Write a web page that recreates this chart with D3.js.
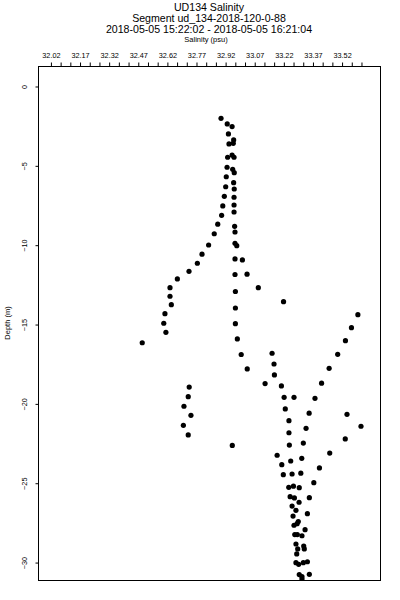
<!DOCTYPE html>
<html>
<head>
<meta charset="utf-8">
<script src="https://cdn.jsdelivr.net/npm/d3@7"></script>
<style>
    body { margin: 0; background: #fff; }
    svg { display: block; font-family: "Liberation Sans", Arial, sans-serif; }
    .title { font-size: 10.6px; text-anchor: middle; }
    .axisLabel { font-size: 7.5px; text-anchor: middle; }
    .tick text { font-size: 7.3px; }
</style>
</head>
<body>
<script>
'use strict';

// salinity (psu) and depth (m) of each sample
const salinity = [
    32.899, 32.931, 32.956, 32.937, 32.964, 32.940, 32.962, 32.956, 32.933, 32.966,
    32.930, 32.959, 32.967, 32.926, 32.964, 32.923, 32.967, 32.916, 32.966, 32.908,
    32.966, 32.902, 32.966, 32.882, 32.969, 32.864, 32.971, 32.835, 32.971, 32.980,
    32.801, 32.777, 32.971, 33.009, 32.734, 32.674, 32.971, 33.033, 32.636, 32.973,
    33.091, 32.636, 32.643, 32.973, 32.610, 32.604, 32.973, 32.615, 32.493, 32.983,
    33.003, 33.162, 33.172, 33.034, 33.174, 33.126, 33.210, 32.735, 32.730, 32.708,
    32.744, 32.705, 32.730, 32.957, 33.221, 33.604, 33.571, 33.540, 33.500, 33.456,
    33.417, 33.383, 33.353, 33.337, 33.323, 33.548, 33.620, 33.539, 33.224, 33.275,
    33.230, 33.249, 33.249, 33.251, 33.188, 33.459, 33.315, 33.258, 33.212, 33.406,
    33.220, 33.265, 33.310, 33.377, 33.248, 33.272, 33.302, 33.255, 33.277, 33.301,
    33.354, 33.265, 33.285, 33.270, 33.344, 33.297, 33.291, 33.275, 33.332, 33.279,
    33.292, 33.316, 33.285, 33.325, 33.328, 33.294, 33.289, 33.285, 33.299, 33.323,
    33.344, 33.302, 33.316, 33.354, 33.316
];
const depth = [
    -2.04, -2.39, -2.56, -3.02, -3.40, -3.65, -3.61, -4.35, -4.49, -4.49,
    -5.12, -5.25, -5.46, -5.72, -6.09, -6.35, -6.49, -6.95, -7.01, -7.56,
    -7.50, -8.15, -7.94, -8.71, -8.84, -9.31, -9.20, -10.02, -9.91, -10.06,
    -10.60, -11.17, -10.90, -10.96, -11.68, -12.16, -11.88, -11.86, -12.71, -12.95,
    -12.71, -13.25, -13.78, -13.99, -14.35, -14.95, -14.98, -15.52, -16.18, -15.94,
    -16.92, -16.84, -17.52, -17.83, -18.21, -18.75, -18.90, -18.97, -19.58, -20.18,
    -20.75, -21.38, -21.99, -22.65, -13.59, -14.41, -15.23, -16.05, -16.91, -17.79,
    -18.73, -19.68, -20.62, -21.57, -22.50, -20.69, -21.44, -22.24, -19.62, -19.62,
    -20.35, -21.09, -21.85, -22.63, -23.27, -23.13, -23.46, -23.63, -23.86, -24.07,
    -24.49, -24.45, -24.40, -25.00, -25.29, -25.22, -25.31, -25.88, -25.96, -26.23,
    -25.94, -26.47, -26.74, -27.10, -26.95, -27.45, -27.58, -27.68, -27.96, -28.27,
    -28.27, -28.34, -28.86, -28.99, -29.17, -29.17, -29.49, -30.04, -30.14, -30.04,
    -29.98, -30.79, -30.92, -30.77, -31.07
];

const salinityTickLabels = ['32.02', '32.17', '32.32', '32.47', '32.62', '32.77',
    '32.92', '33.07', '33.22', '33.37', '33.52'];
const depthTickLabels = [0, -5, -10, -15, -20, -25, -30];
const titleLines = [
    'UD134 Salinity',
    'Segment ud_134-2018-120-0-88',
    '2018-05-05 15:22:02 - 2018-05-05 16:21:04'
];

(function () {

    const plot = {
        width: 400,
        height: 600,
        box: { left: 38, right: 380, top: 66, bottom: 580 }
    };

    function makeScales() {
        return {
            x: d3.scaleLinear().domain([31.956, 33.718])
                .range([plot.box.left, plot.box.right]),
            y: d3.scaleLinear().domain([1.26, -31.13])
                .range([plot.box.top, plot.box.bottom])
        };
    }

    /**
     * Top axis: minor tick every 0.05 psu, labels every 0.15.
     */
    function appendXAxis(svg, scales) {
        const first = +salinityTickLabels[0];
        const minor = d3.range(0, 33).map(i => +(first + i * 0.05).toFixed(2));
        const labelled = new Set(salinityTickLabels);
        const axis = d3.axisTop(scales.x)
            .tickValues(minor)
            .tickSize(4)
            .tickSizeOuter(0)
            .tickPadding(5)
            .tickFormat(d => labelled.has(d.toFixed(2)) ? d.toFixed(2) : '');
        const g = svg.append('g')
            .attr('transform', 'translate(0.5,' + (plot.box.top + 0.5) + ')')
            .call(axis);
        g.select('.domain').remove();
        g.selectAll('.tick text').attr('font-family', null).attr('font-size', null);
    }

    /**
     * Left axis: short ticks, labels turned to read bottom to top.
     */
    function appendYAxis(svg, scales) {
        const axis = d3.axisLeft(scales.y)
            .tickValues(depthTickLabels)
            .tickSize(3)
            .tickSizeOuter(0)
            .tickFormat(d3.format('d'));
        const g = svg.append('g')
            .attr('transform', 'translate(' + (plot.box.left + 0.5) + ',0.5)')
            .call(axis);
        g.select('.domain').remove();
        g.selectAll('.tick text')
            .attr('font-family', null).attr('font-size', null)
            .attr('x', 0).attr('y', -12).attr('dy', 0)
            .attr('text-anchor', 'middle')
            .attr('transform', 'rotate(-90)');
    }

    function appendBox(svg) {
        svg.append('rect')
            .attr('x', plot.box.left + 0.5)
            .attr('y', plot.box.top + 0.5)
            .attr('width', plot.box.right - plot.box.left)
            .attr('height', plot.box.bottom - plot.box.top)
            .attr('fill', 'none')
            .attr('stroke', '#000')
            .attr('stroke-width', 1);
    }

    function appendPoints(svg, scales) {
        svg.append('clipPath').attr('id', 'plotClip')
            .append('rect')
            .attr('x', plot.box.left).attr('y', plot.box.top)
            .attr('width', plot.box.right - plot.box.left)
            .attr('height', plot.box.bottom - plot.box.top);
        svg.append('g')
            .attr('clip-path', 'url(#plotClip)')
            .selectAll('circle')
            .data(d3.range(salinity.length))
            .enter()
            .append('circle')
            .attr('cx', i => scales.x(salinity[i]))
            .attr('cy', i => scales.y(depth[i]))
            .attr('r', 2.6)
            .attr('fill', '#000');
    }

    function appendTitles(svg) {
        const cx = (plot.box.left + plot.box.right) / 2;
        svg.selectAll('.title')
            .data(titleLines)
            .enter()
            .append('text')
            .attr('class', 'title')
            .attr('x', cx)
            .attr('y', (d, i) => 11 + i * 11)
            .text(d => d);
        svg.append('text')
            .attr('class', 'axisLabel')
            .attr('x', cx - 3)
            .attr('y', 41.5)
            .text('Salinity (psu)');
        svg.append('text')
            .attr('class', 'axisLabel')
            .attr('font-size', '6.5px')
            .attr('transform', 'translate(10,' + ((plot.box.top + plot.box.bottom) / 2) + ') rotate(-90)')
            .text('Depth (m)');
    }

    function draw() {
        const svg = d3.select('body').append('svg')
            .attr('width', plot.width)
            .attr('height', plot.height);
        const scales = makeScales();
        appendBox(svg);
        appendXAxis(svg, scales);
        appendYAxis(svg, scales);
        appendPoints(svg, scales);
        appendTitles(svg);
    }

    window.onload = draw;

})();
</script>
</body>
</html>
